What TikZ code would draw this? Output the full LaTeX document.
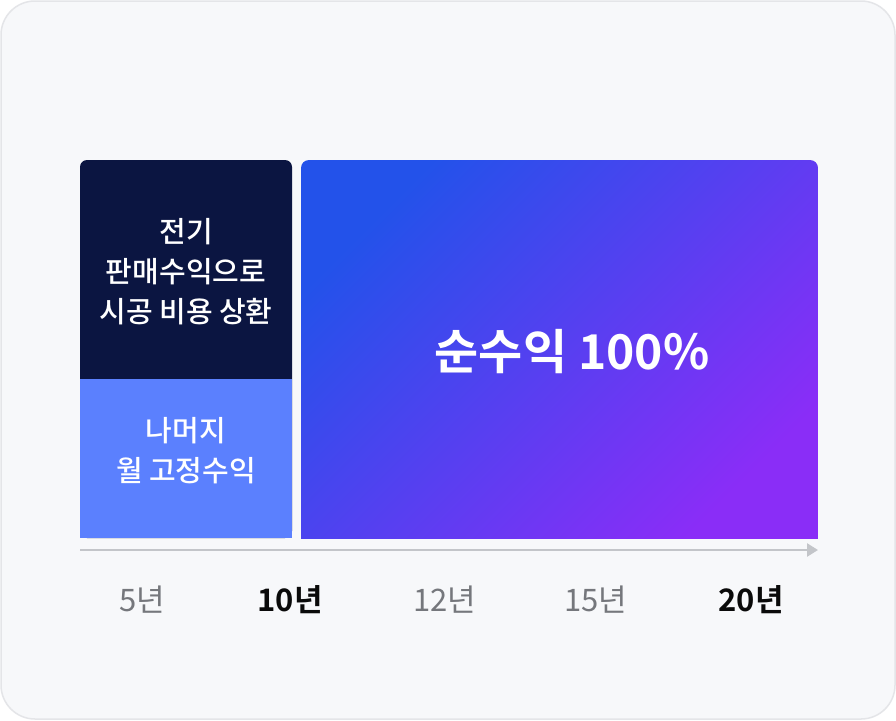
\documentclass[tikz,border=0pt]{standalone}
\usepackage{fontspec}
\setmainfont{Noto Sans CJK KR}
\newfontfamily\krb{Noto Sans CJK KR Bold}
\newfontfamily\krm{Noto Sans CJK KR Medium}
\usetikzlibrary{arrows.meta}
\definecolor{cardbg}{HTML}{F7F8FA}
\definecolor{cardline}{HTML}{E4E5E8}
\definecolor{navy}{HTML}{0B1541}
\definecolor{lightblue}{HTML}{5B80FE}
\definecolor{gradA}{HTML}{2352EA}
\definecolor{gradB}{HTML}{8A2DF7}
\definecolor{axisgray}{HTML}{C3C5C9}
\definecolor{labgray}{HTML}{75777C}
\definecolor{labdark}{HTML}{0A0A0A}
\tikzset{
  blocktext/.style={text=white, align=center, font=\krm\fontsize{29}{40}\selectfont},
  bigtext/.style={text=white, font=\krb\fontsize{48}{54}\selectfont},
  yearlab/.style={text=labgray, font=\fontsize{31}{34}\selectfont},
  yearbold/.style={text=labdark, font=\krb\fontsize{31}{34}\selectfont},
}
\begin{document}
\begin{tikzpicture}[x=1pt,y=-1pt]
\useasboundingbox (0,0) rectangle (896,720);
\fill[white] (0,0) rectangle (896,720);
\draw[cardline, fill=cardbg, line width=1.5pt, rounded corners=34pt] (1,1) rectangle (895,719);
% left blocks
\fill[navy, rounded corners=7pt] (80,160) rectangle (292,538);
\fill[lightblue] (80,379) rectangle (292,538);
% right gradient block
\begin{scope}
\clip[rounded corners=8pt] (301,160) rectangle (818,580);
\shade[top color=gradA, bottom color=gradB, shading angle=45] (301,160) rectangle (818,538);
\end{scope}
% texts
\node[blocktext] (t1) at (186,272) {전기\\판매수익으로\\시공 비용 상환};
\node[blocktext] (t2) at (186,451) {나머지\\월 고정수익};
\node[bigtext] (t3) at (572,352) {순수익 100\%};
% axis
\coordinate (axs) at (80,550);
\coordinate (axe) at (818,550);
\draw[axisgray, line width=2.5pt, -{Triangle[length=11pt,width=13pt]}] (axs) -- (axe);
% year labels
\node[yearlab] (y5) at (142,600) {5년};
\node[yearbold] (y10) at (290,600) {10년};
\node[yearlab] (y12) at (445,600) {12년};
\node[yearlab] (y15) at (596,600) {15년};
\node[yearbold] (y20) at (751,600) {20년};
\end{tikzpicture}
\end{document}
